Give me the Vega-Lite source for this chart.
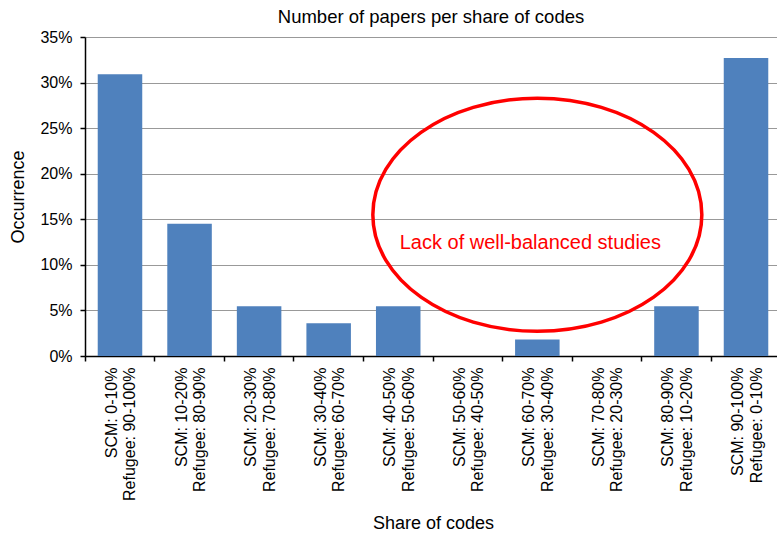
{
  "$schema": "https://vega.github.io/schema/vega-lite/v6.json",
  "width": 692,
  "height": 319,
  "autosize": {"type": "none"},
  "padding": {"left": 85, "top": 37, "right": 0, "bottom": 177},
  "background": "white",
  "title": {"text": "Number of papers per share of codes", "fontSize": 18.5, "fontWeight": "normal", "font": "Liberation Sans", "color": "black", "offset": 3},
  "config": {
    "font": "Liberation Sans",
    "view": {"stroke": null},
    "axis": {"labelFont": "Liberation Sans", "titleFont": "Liberation Sans", "labelColor": "black", "titleColor": "black", "titleFontWeight": "normal", "domainColor": "black", "tickColor": "black", "domainWidth": 1.5, "tickWidth": 1.5, "tickSize": 5}
  },
  "datasets": {
    "bars": [
      {"label": "SCM: 0-10%|Refugee: 90-100%", "value": 0.309},
      {"label": "SCM: 10-20%|Refugee: 80-90%", "value": 0.145},
      {"label": "SCM: 20-30%|Refugee: 70-80%", "value": 0.0545},
      {"label": "SCM: 30-40%|Refugee: 60-70%", "value": 0.036},
      {"label": "SCM: 40-50%|Refugee: 50-60%", "value": 0.0545},
      {"label": "SCM: 50-60%|Refugee: 40-50%", "value": 0},
      {"label": "SCM: 60-70%|Refugee: 30-40%", "value": 0.018},
      {"label": "SCM: 70-80%|Refugee: 20-30%", "value": 0},
      {"label": "SCM: 80-90%|Refugee: 10-20%", "value": 0.0545},
      {"label": "SCM: 90-100%|Refugee: 0-10%", "value": 0.327}
    ],
    "note": [
      {"label": "SCM: 60-70%|Refugee: 30-40%", "ellipse": 0.155, "textpos": 0.124, "text": "Lack of well-balanced studies"}
    ]
  },
  "layer": [
    {
      "data": {"name": "bars"},
      "mark": {"type": "bar", "color": "#4F81BD"},
      "encoding": {
        "x": {
          "field": "label", "type": "nominal", "sort": null,
          "scale": {"paddingInner": 0.36, "paddingOuter": 0.183, "range": [0, 696]},
          "axis": {"title": "Share of codes", "titleFontSize": 18, "labelFontSize": 16, "labelAngle": -90, "labelExpr": "split(datum.value, '|')", "labelLineHeight": 18.5, "bandPosition": -0.281, "labelOffset": -8, "labelPadding": 6, "titlePadding": 14, "labelBaseline": "middle", "labelAlign": "right"}
        },
        "y": {
          "field": "value", "type": "quantitative",
          "scale": {"domain": [0, 0.35], "nice": false},
          "axis": {"title": "Occurrence", "titleFontSize": 18, "labelFontSize": 16, "format": ".0%", "values": [0, 0.05, 0.1, 0.15, 0.2, 0.25, 0.3, 0.35], "gridColor": "#999999", "gridWidth": 1.2, "gridOpacity": 1, "labelPadding": 8, "titlePadding": 12}
        }
      }
    },
    {
      "data": {"name": "note"},
      "mark": {"type": "point", "shape": "M -1.412 0 A 1.412 1 0 1 0 1.412 0 A 1.412 1 0 1 0 -1.412 0 Z", "size": 54289, "stroke": "#FF0000", "strokeWidth": 3.5, "filled": false, "opacity": 1, "strokeOpacity": 1},
      "encoding": {
        "x": {"field": "label", "type": "nominal", "sort": null},
        "y": {"field": "ellipse", "type": "quantitative"}
      }
    },
    {
      "data": {"name": "note"},
      "mark": {"type": "text", "color": "#FF0000", "fontSize": 20, "font": "Liberation Sans", "dx": -7, "align": "center", "baseline": "middle"},
      "encoding": {
        "x": {"field": "label", "type": "nominal", "sort": null},
        "y": {"field": "textpos", "type": "quantitative"},
        "text": {"field": "text"}
      }
    }
  ]
}
